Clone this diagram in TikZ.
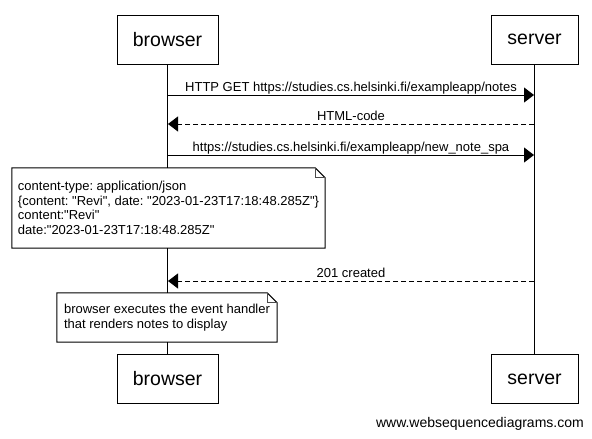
\documentclass[tikz,border=0pt]{standalone}
\usepackage{fontspec}
\setmainfont{Liberation Sans}[Ligatures=TeXOff]
\usetikzlibrary{arrows.meta}
\frenchspacing
\tikzset{
  actor/.style={draw, line width=1pt, fill=white, minimum height=49pt, inner sep=0pt, font=\fontsize{19.5}{22}\selectfont},
  lifeline/.style={line width=1pt},
  msg/.style={line width=1pt, -{Triangle[length=10pt,width=15pt]}},
  reply/.style={msg, dash pattern=on 5pt off 3pt},
  lbl/.style={anchor=base, yshift=4pt, inner sep=0pt, font=\fontsize{13}{15}\selectfont},
  notebox/.style={fill=white, inner sep=0pt, align=left, font=\fontsize{13}{14.5}\selectfont},
  noteline/.style={line width=1pt},
  fold/.style={line width=0.8pt, draw=black!70}
}
\begin{document}
\begin{tikzpicture}[x=1pt,y=-1pt]
\useasboundingbox (0,0) rectangle (592,439);
% actors
\node[actor, minimum width=101pt] (bt) at (167.5,39.5) {browser};
\node[actor, minimum width=87pt] (st) at (534.5,39.5) {server};
\node[actor, minimum width=101pt] (bb) at (167.5,379) {browser};
\node[actor, minimum width=87pt] (sb) at (534.5,379) {server};
% lifelines
\draw[lifeline] (bt.south) -- (bb.north);
\draw[lifeline] (st.south) -- (sb.north);
% message anchors
\coordinate (b1) at (168,95);  \coordinate (s1) at (534,95);
\coordinate (b2) at (168,124); \coordinate (s2) at (534,124);
\coordinate (b3) at (168,155); \coordinate (s3) at (534,155);
\coordinate (b4) at (168,281); \coordinate (s4) at (534,281);
\draw[msg] (b1) -- (s1) node[lbl, midway] {HTTP GET https://studies.cs.helsinki.fi/exampleapp/notes};
\draw[reply] (s2) -- (b2) node[lbl, midway] {HTML-code};
\draw[msg] (b3) -- (s3) node[lbl, midway] {https://studies.cs.helsinki.fi/exampleapp/new\_note\_spa};
% note 1
\node[notebox, minimum width=313pt, minimum height=80pt] (n1) at (168.5,208)
  {content-type: application/json\\
   \{content: "Revi", date: "2023-01-23T17:18:48.285Z"\}\\
   content:"Revi"\\
   date:"2023-01-23T17:18:48.285Z"};
\draw[noteline] (n1.north west) -- ([xshift=-10pt]n1.north east) -- ([yshift=-10pt]n1.north east) -- (n1.south east) -- (n1.south west) -- cycle;
\draw[fold] ([xshift=-10pt]n1.north east) -- ([xshift=-10pt,yshift=-10pt]n1.north east) -- ([yshift=-10pt]n1.north east);
% reply 201
\draw[reply] (s4) -- (b4) node[lbl, midway] {201 created};
% note 2
\node[notebox, minimum width=220pt, minimum height=49pt] (n2) at (167,317.5)
  {browser executes the event handler\\that renders notes to display};
\draw[noteline] (n2.north west) -- ([xshift=-10pt]n2.north east) -- ([yshift=-10pt]n2.north east) -- (n2.south east) -- (n2.south west) -- cycle;
\draw[fold] ([xshift=-10pt]n2.north east) -- ([xshift=-10pt,yshift=-10pt]n2.north east) -- ([yshift=-10pt]n2.north east);
% watermark
\node[anchor=east, inner sep=0pt, font=\fontsize{14}{16}\selectfont] (wm) at (584,424) {www.websequencediagrams.com};
\end{tikzpicture}
\end{document}
